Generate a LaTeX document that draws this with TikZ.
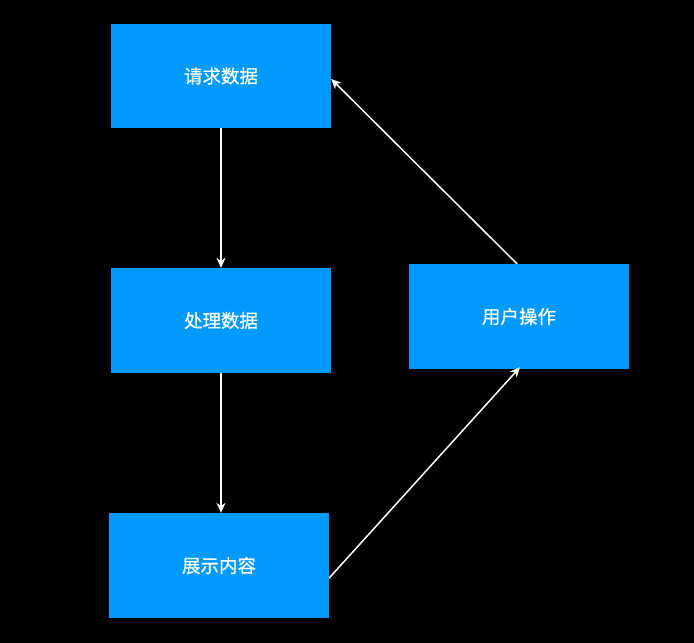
\documentclass[tikz,border=0pt]{standalone}
\usepackage{fontspec}
\newfontfamily\cjk[FakeBold=0.6]{Noto Sans CJK SC}
\usetikzlibrary{arrows.meta}
\definecolor{boxblue}{RGB}{0,153,255}
\tikzset{
  flowbox/.style={fill=boxblue, draw=none, minimum width=220pt, inner sep=0pt,
    text=white, font=\cjk\fontsize{18.5}{20}\selectfont},
  flowarrow/.style={draw=white, line width=1.5pt, -{Stealth[length=10pt,width=9pt]}}
}
\begin{document}
\begin{tikzpicture}[x=1pt,y=-1pt]
\fill[black] (0,0) rectangle (694,643);
\useasboundingbox (0,0) rectangle (694,643);
\node[flowbox, minimum height=104pt] (A) at (221,76) {请求数据};
\node[flowbox, minimum height=105pt] (B) at (221,320.5) {处理数据};
\node[flowbox, minimum height=105pt] (C) at (219,565.5) {展示内容};
\node[flowbox, minimum height=105pt] (D) at (519,316.5) {用户操作};
\draw[flowarrow] (A.south) -- (B.north);
\draw[flowarrow] (B.south) -- (C.north -| B.south);
\draw[flowarrow] ([yshift=-12.5pt]C.east) -- ([xshift=1pt,yshift=2pt]D.south);
\draw[flowarrow] ([xshift=-2pt]D.north) -- ([yshift=-3pt]A.east);
\end{tikzpicture}
\end{document}
